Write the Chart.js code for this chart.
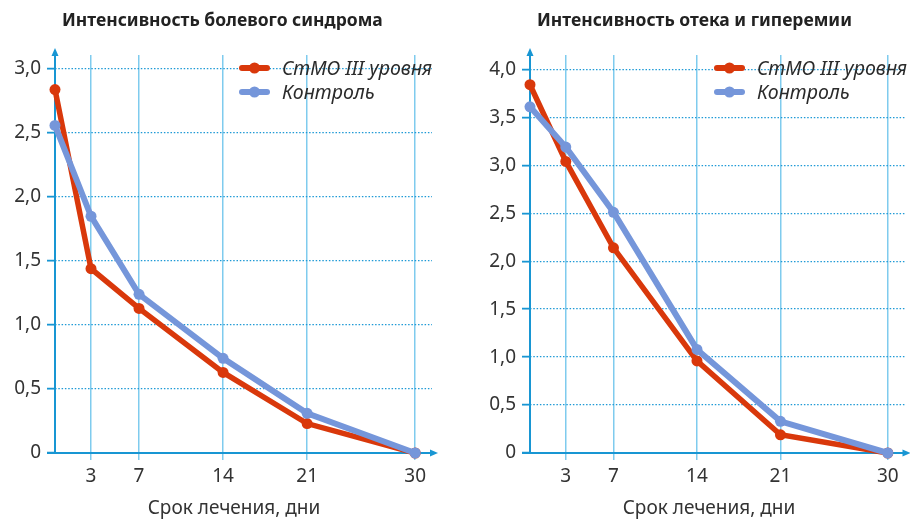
<!DOCTYPE html>
<html>
<head>
<meta charset="utf-8">
<title>Интенсивность болевого синдрома / отека и гиперемии</title>
<script src="https://cdn.jsdelivr.net/npm/chart.js"></script>
<style>
  html, body { margin: 0; padding: 0; background: #fff; }
  #wrap { position: relative; width: 910px; height: 523px; }
  #leftBox { position: absolute; left: 0; top: 0; width: 475px; height: 523px; }
  #rightBox { position: absolute; left: 475px; top: 0; width: 435px; height: 523px; }
</style>
</head>
<body>
<div id="wrap">
  <div id="leftBox"><canvas id="pain_chart"></canvas></div>
  <div id="rightBox"><canvas id="edema_chart"></canvas></div>
</div>

<script>
// data
const days = [0, 3, 7, 14, 21, 30];
const xTickDays = [3, 7, 14, 21, 30];
const seriesNames = ['СтМО III уровня', 'Контроль'];

const painStmo = [2.84, 1.44, 1.13, 0.63, 0.23, 0];
const painControl = [2.56, 1.85, 1.24, 0.74, 0.31, 0];

const edemaStmo = [3.84, 3.04, 2.14, 0.96, 0.19, 0];
const edemaControl = [3.61, 3.19, 2.51, 1.08, 0.33, 0];

const xTitle = 'Срок лечения, дни';

const RED = '#d9380b';
const BLUE = '#7596da';
const AXIS = '#1896d3';
const VGRID = '#7fcbee';
const HGRID = '#1f9ad6';
const TEXT = '#333333';
const FONT = "'Noto Sans', 'Open Sans', sans-serif";

function pairs(values) {
    return days.map(function(d, i) { return {x: d, y: values[i]}; });
}

// axes with arrows, titles and line+dot legend
const decorPlugin = {
    id: 'decor',
    beforeDatasetsDraw(chart) {
        const ctx = chart.ctx;
        const a = chart.chartArea;
        const y0 = chart.scales.y.getPixelForValue(0);
        const x0 = chart.scales.x.getPixelForValue(0);
        ctx.save();
        ctx.strokeStyle = AXIS;
        ctx.fillStyle = AXIS;
        ctx.lineWidth = 2;
        ctx.beginPath();
        ctx.moveTo(x0 - 8, y0);
        ctx.lineTo(a.right, y0);
        ctx.moveTo(x0, y0);
        ctx.lineTo(x0, a.top - 1);
        ctx.stroke();
        // arrow heads
        ctx.beginPath();
        ctx.moveTo(a.right + 6, y0);
        ctx.lineTo(a.right - 2, y0 - 3.5);
        ctx.lineTo(a.right - 2, y0 + 3.5);
        ctx.closePath();
        ctx.fill();
        ctx.beginPath();
        ctx.moveTo(x0, a.top - 7);
        ctx.lineTo(x0 - 3.5, a.top + 1);
        ctx.lineTo(x0 + 3.5, a.top + 1);
        ctx.closePath();
        ctx.fill();
        ctx.restore();
    },
    afterDraw(chart, args, opts) {
        const ctx = chart.ctx;
        const x0 = chart.scales.x.getPixelForValue(0);
        ctx.save();
        ctx.fillStyle = '#222';
        ctx.font = 'bold 17.5px ' + FONT;
        ctx.textAlign = 'left';
        ctx.textBaseline = 'middle';
        ctx.fillText(opts.title, 62, 21);

        // x axis title
        ctx.fillStyle = TEXT;
        ctx.font = '19px ' + FONT;
        ctx.textAlign = 'center';
        ctx.fillText(xTitle, x0 + 179, 509);

        ctx.textAlign = 'left';
        chart.data.datasets.forEach(function(ds, i) {
            const ly = 68 + i * 24;
            ctx.strokeStyle = ds.borderColor;
            ctx.fillStyle = ds.borderColor;
            ctx.lineWidth = 6;
            ctx.lineCap = 'round';
            ctx.beginPath();
            ctx.moveTo(242, ly);
            ctx.lineTo(267, ly);
            ctx.stroke();
            ctx.beginPath();
            ctx.arc(254.5, ly, 5.5, 0, Math.PI * 2);
            ctx.fill();
            ctx.fillStyle = '#2b2b2b';
            ctx.font = 'italic 19.5px ' + FONT;
            ctx.fillText(ds.label, 282, ly + 1);
        });
        ctx.restore();
    }
};

function makeChart(id, title, stmo, control, yMax, padRight) {
    const ctx = document.getElementById(id).getContext('2d');
    return new Chart(ctx, {
        type: 'line',
        data: {
            datasets: [{
                label: seriesNames[0],
                data: pairs(stmo),
                borderColor: RED,
                backgroundColor: RED,
                borderWidth: 5.5,
                pointRadius: 5.5,
                pointBorderWidth: 0,
                fill: false,
                tension: 0,
                clip: false,
                order: 2
            }, {
                label: seriesNames[1],
                data: pairs(control),
                borderColor: BLUE,
                backgroundColor: BLUE,
                borderWidth: 6,
                pointRadius: 5.5,
                pointBorderWidth: 0,
                fill: false,
                tension: 0,
                clip: false,
                order: 1
            }]
        },
        options: {
            responsive: false,
            animation: false,
            devicePixelRatio: 1,
            layout: { padding: { top: 55, right: padRight, bottom: 0, left: 0 } },
            scales: {
                x: {
                    type: 'linear',
                    min: 0,
                    max: 31.4,
                    afterBuildTicks: function(scale) {
                        scale.ticks = xTickDays.map(function(v) { return {value: v}; });
                    },
                    afterFit: function(scale) { scale.height = 70; },
                    grid: {
                        color: VGRID,
                        lineWidth: 1.5,
                        tickLength: 7,
                        tickColor: VGRID
                    },
                    border: { display: false },
                    ticks: {
                        color: TEXT,
                        font: { family: FONT, size: 19 },
                        padding: 5,
                        maxRotation: 0,
                        autoSkip: false,
                        callback: function(v) { return String(v); }
                    }
                },
                y: {
                    min: 0,
                    max: yMax,
                    afterBuildTicks: function(scale) {
                        const t = [];
                        for (let v = 0; v <= Math.floor(yMax * 2) / 2 + 1e-9; v += 0.5) t.push({value: v});
                        scale.ticks = t;
                    },
                    afterFit: function(scale) { scale.width = 55; },
                    grid: {
                        color: HGRID,
                        lineWidth: 1.3,
                        tickLength: 8,
                        tickColor: AXIS,
                        tickWidth: 1.8,
                        tickBorderDash: []
                    },
                    border: { display: false, dash: [1.5, 1.8] },
                    ticks: {
                        color: TEXT,
                        font: { family: FONT, size: 19 },
                        padding: 6,
                        callback: function(v) {
                            return v === 0 ? '0' : v.toFixed(1).replace('.', ',');
                        }
                    }
                }
            },
            plugins: {
                legend: { display: false },
                tooltip: { enabled: false },
                decor: { title: title }
            }
        },
        plugins: [decorPlugin]
    });
}

document.getElementById('pain_chart').width = 475;
document.getElementById('pain_chart').height = 523;
document.getElementById('edema_chart').width = 435;
document.getElementById('edema_chart').height = 523;

makeChart('pain_chart', 'Интенсивность болевого синдрома', painStmo, painControl, 3.11, 43);
makeChart('edema_chart', 'Интенсивность отека и гиперемии', edemaStmo, edemaControl, 4.15, 3);
</script>
</body>
</html>
